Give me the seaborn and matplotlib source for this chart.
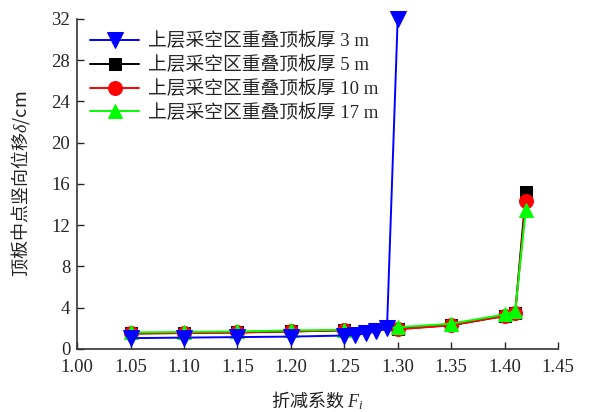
import matplotlib
matplotlib.use("Agg")
import matplotlib.pyplot as plt
import seaborn as sns
import pandas as pd

x_3m = [1.05, 1.10, 1.15, 1.20, 1.25, 1.26, 1.27, 1.28, 1.29, 1.30]
y_3m = [1.05, 1.1, 1.15, 1.2, 1.3, 1.35, 1.5, 1.7, 2.0, 32.0]
x_other = [1.05, 1.10, 1.15, 1.20, 1.25, 1.30, 1.35, 1.40, 1.41, 1.42]
y_5m = [1.5, 1.55, 1.6, 1.7, 1.8, 1.95, 2.3, 3.2, 3.5, 15.2]
y_10m = [1.5, 1.55, 1.6, 1.7, 1.8, 1.9, 2.3, 3.2, 3.5, 14.3]
y_17m = [1.6, 1.65, 1.7, 1.8, 1.85, 2.1, 2.45, 3.35, 3.7, 13.5]
labels = ["上层采空区重叠顶板厚 3 m", "上层采空区重叠顶板厚 5 m",
          "上层采空区重叠顶板厚 10 m", "上层采空区重叠顶板厚 17 m"]
xticks = [1.00, 1.05, 1.10, 1.15, 1.20, 1.25, 1.30, 1.35, 1.40, 1.45]
yticks = [0, 4, 8, 12, 16, 20, 24, 28, 32]

sns.set_style("ticks")
plt.rcParams['font.family'] = ['Liberation Serif', 'Noto Sans CJK SC']
plt.rcParams['mathtext.fontset'] = 'custom'
plt.rcParams['mathtext.rm'] = 'Liberation Serif'
plt.rcParams['mathtext.it'] = 'Liberation Serif:italic'

fig = plt.figure(figsize=(5.98, 4.12), dpi=100)
ax = fig.add_axes([0.129, 0.153, 0.804, 0.801])

series = [
    (x_3m, y_3m, "blue", "v", 11, 5),
    (x_other, y_5m, "black", "s", 9, 2),
    (x_other, y_10m, "red", "o", 10, 3),
    (x_other, y_17m, "#00ff00", "^", 10, 4),
]
for (xs, ys, c, m, ms, z), lab in zip(series, labels):
    df = pd.DataFrame({"x": xs, "y": ys})
    sns.lineplot(data=df, x="x", y="y", ax=ax, color=c, marker=m, markersize=ms,
                 markeredgecolor=c, linewidth=1.4, label=lab, zorder=z,
                 clip_on=False, estimator=None)

ax.set_xlim(1.00, 1.45)
ax.set_ylim(0, 32)
ax.set_xticks(xticks)
ax.set_xticklabels([f"{v:.2f}" for v in xticks])
ax.set_yticks(yticks)
ax.tick_params(direction='in', labelsize=13.5, length=5, width=1)
ax.tick_params(axis='x', pad=7)
ax.tick_params(axis='y', pad=5)
for s in ["top", "right"]:
    ax.spines[s].set_visible(False)
for s in ["left", "bottom"]:
    ax.spines[s].set_linewidth(1.2)
    ax.spines[s].set_color("#333333")

cjk = ['Noto Sans CJK SC']
ax.set_xlabel("折减系数 $F_i$", fontsize=13, labelpad=10, family=cjk, color="#222222")
ax.set_ylabel("顶板中点竖向位移$\\delta$/cm", fontsize=13, labelpad=14, family=cjk,
              color="#222222")

leg = ax.legend(loc="upper left", bbox_to_anchor=(0.0, 1.0), frameon=False,
                fontsize=13.5, handlelength=2.6, labelspacing=0.3,
                borderaxespad=0.3, handletextpad=0.5)
fig.savefig("out.png", dpi=100)
